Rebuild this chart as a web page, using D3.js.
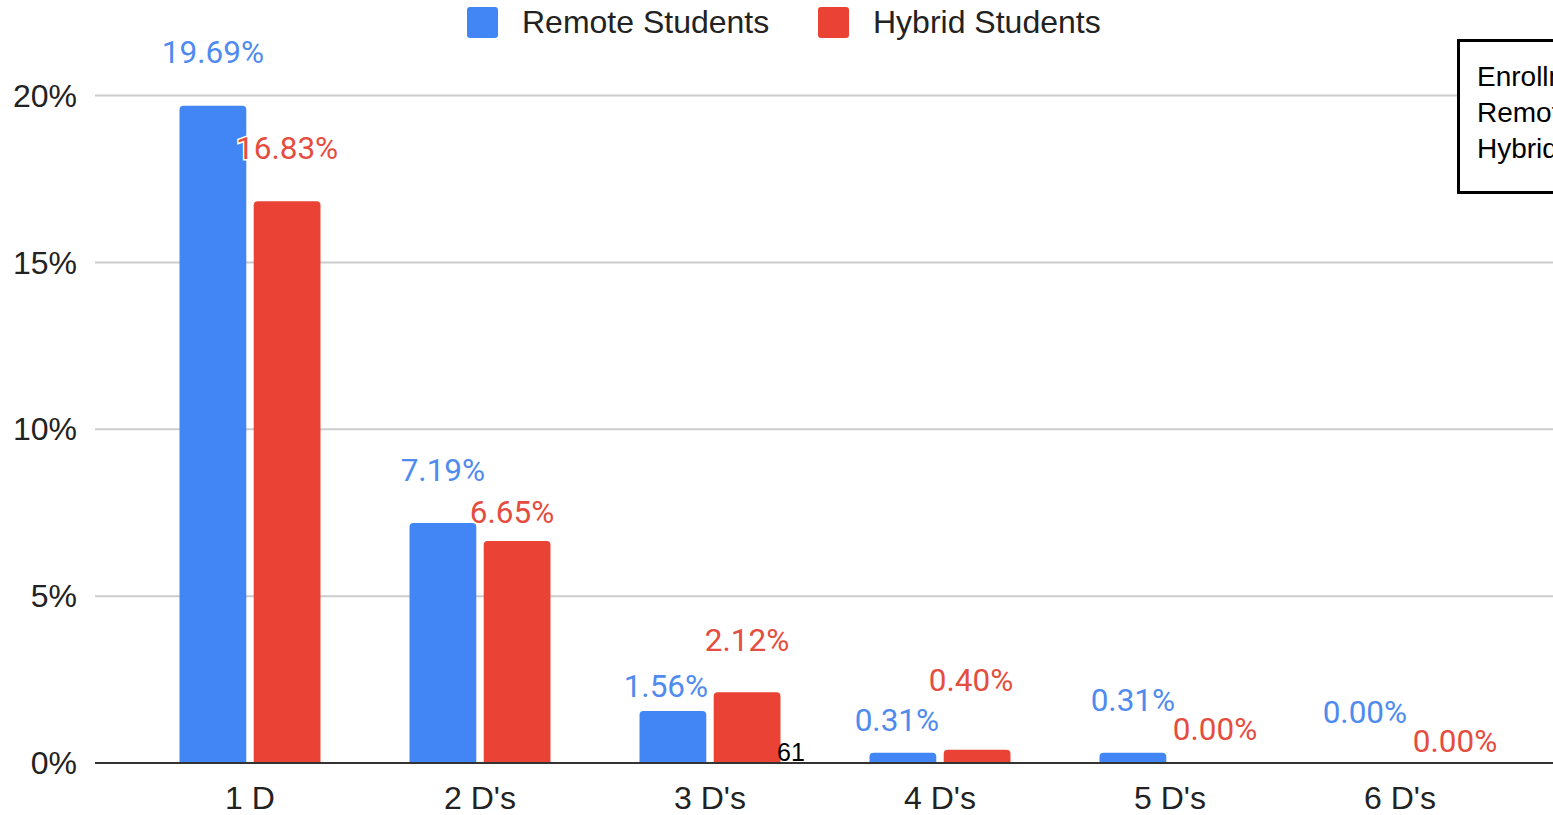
<!DOCTYPE html>
<html>
<head>
<meta charset="utf-8">
<script src="https://cdn.jsdelivr.net/npm/d3@7"></script>
<style>
  html, body { margin: 0; padding: 0; background: #fff; overflow: hidden; }
  svg { display: block; }
</style>
</head>
<body>
<svg id="chart" width="1553" height="815"></svg>
<script>
// ---- data ----
const categories = ["1 D", "2 D's", "3 D's", "4 D's", "5 D's", "6 D's"];
const seriesNames = ["Remote Students", "Hybrid Students"];
const remoteValues = [19.69, 7.19, 1.56, 0.31, 0.31, 0.00];
const hybridValues = [16.83, 6.65, 2.12, 0.40, 0.00, 0.00];
const yTicks = [0, 5, 10, 15, 20];
const noteLines = ["Enrollment", "Remote Students", "Hybrid Students"];
const strayLabel = "61";

// label placement (pixel nudges, Sheets-style overlap avoidance)
const remoteLabelDx = [0, 0, -7, -6, 0, 2];
const remoteLabelDy = [54, 53, 25, 33, 53, 51];
const hybridLabelDx = [0, -5, 0, -6, 8, 18];
const hybridLabelDy = [53, 29, 52, 70, 34, 22];

const colors = ["#4285f4", "#ea4335"];
const labelColors = ["#4f8bef", "#e44d40"];

const svg = d3.select("#chart");
const W = 1553, H = 815;
const plotLeft = 95, plotRight = 1553;

const y = d3.scaleLinear().domain([0, 20]).range([763, 95.5]);
const x = d3.scaleBand().domain(categories).range([135, 1515])
  .paddingInner(0.387).paddingOuter(0.1935);
const xs = d3.scaleBand().domain(seriesNames).range([0, x.bandwidth()])
  .paddingInner(0.1).paddingOuter(0);

// gridlines
svg.append("g").selectAll("line").data(yTicks.filter(d => d > 0)).join("line")
  .attr("x1", plotLeft).attr("x2", plotRight)
  .attr("y1", d => y(d)).attr("y2", d => y(d))
  .attr("stroke", "#cccccc").attr("stroke-width", 2);

// y axis labels
svg.append("g").selectAll("text").data(yTicks).join("text")
  .attr("x", 77).attr("y", d => y(d)).attr("dy", "0.35em")
  .attr("text-anchor", "end")
  .attr("font-family", "Liberation Sans, Arial, sans-serif")
  .attr("font-size", 32).attr("fill", "#222")
  .text(d => d + "%");

// bars
function barPath(x0, w, yTop, yBase, r) {
  const h = yBase - yTop;
  const rr = Math.min(r, h, w / 2);
  if (h <= 0) return "";
  return `M${x0},${yBase} L${x0},${yTop + rr} Q${x0},${yTop} ${x0 + rr},${yTop} ` +
         `L${x0 + w - rr},${yTop} Q${x0 + w},${yTop} ${x0 + w},${yTop + rr} L${x0 + w},${yBase} Z`;
}

const seriesData = [remoteValues, hybridValues];
const labelDx = [remoteLabelDx, hybridLabelDx];
const labelDy = [remoteLabelDy, hybridLabelDy];

seriesData.forEach((vals, si) => {
  const g = svg.append("g");
  g.selectAll("path").data(vals).join("path")
    .attr("d", (v, i) => barPath(x(categories[i]) + xs(seriesNames[si]), xs.bandwidth(), y(v), y(0), 4))
    .attr("fill", colors[si]);
});

// axis baseline
svg.append("line").attr("x1", plotLeft).attr("x2", plotRight)
  .attr("y1", y(0)).attr("y2", y(0))
  .attr("stroke", "#333333").attr("stroke-width", 2);

// value labels
seriesData.forEach((vals, si) => {
  svg.append("g").selectAll("text").data(vals).join("text")
    .attr("x", (v, i) => x(categories[i]) + xs(seriesNames[si]) + xs.bandwidth() / 2 + labelDx[si][i])
    .attr("y", (v, i) => y(v) - labelDy[si][i])
    .attr("dy", "0.35em")
    .attr("text-anchor", "middle")
    .attr("font-family", "Roboto, sans-serif")
    .attr("font-size", 31.5)
    .attr("fill", labelColors[si])
    .attr("stroke", "#fff").attr("stroke-width", 3).attr("paint-order", "stroke")
    .text(v => v.toFixed(2) + "%");
});

// category labels
svg.append("g").selectAll("text").data(categories).join("text")
  .attr("x", d => x(d) + x.bandwidth() / 2).attr("y", 798).attr("dy", "0.35em")
  .attr("text-anchor", "middle")
  .attr("font-family", "Liberation Sans, Arial, sans-serif")
  .attr("font-size", 32).attr("fill", "#222")
  .text(d => d);

// stray label
svg.append("text").attr("x", 777).attr("y", 752).attr("dy", "0.35em")
  .attr("font-family", "Liberation Sans, Arial, sans-serif")
  .attr("font-size", 25).attr("fill", "#000").text(strayLabel);

// legend
const legendItems = [{ name: seriesNames[0], x: 467 }, { name: seriesNames[1], x: 818 }];
const lg = svg.append("g");
legendItems.forEach((d, i) => {
  lg.append("rect").attr("x", d.x).attr("y", 7).attr("width", 31).attr("height", 31)
    .attr("rx", 3).attr("fill", colors[i]);
  lg.append("text").attr("x", d.x + 55).attr("y", 22).attr("dy", "0.35em")
    .attr("font-family", "Liberation Sans, Arial, sans-serif")
    .attr("font-size", 32).attr("fill", "#222").text(d.name);
});

// note box (cropped at right edge, as in the source)
const clip = svg.append("defs").append("clipPath").attr("id", "noteClip");
clip.append("rect").attr("x", 1440).attr("y", 30).attr("width", W - 1440).attr("height", 180);
const note = svg.append("g").attr("clip-path", "url(#noteClip)");
note.append("rect").attr("x", 1458.5).attr("y", 40.5).attr("width", 300).attr("height", 152)
  .attr("fill", "#fff").attr("stroke", "#000").attr("stroke-width", 3);
note.selectAll("text.note").data(noteLines).join("text")
  .attr("class", "note")
  .attr("x", 1477).attr("y", (d, i) => 76 + i * 36).attr("dy", "0.35em")
  .attr("font-family", "Liberation Sans, Arial, sans-serif")
  .attr("font-size", 28).attr("fill", "#000").text(d => d);
</script>
</body>
</html>
